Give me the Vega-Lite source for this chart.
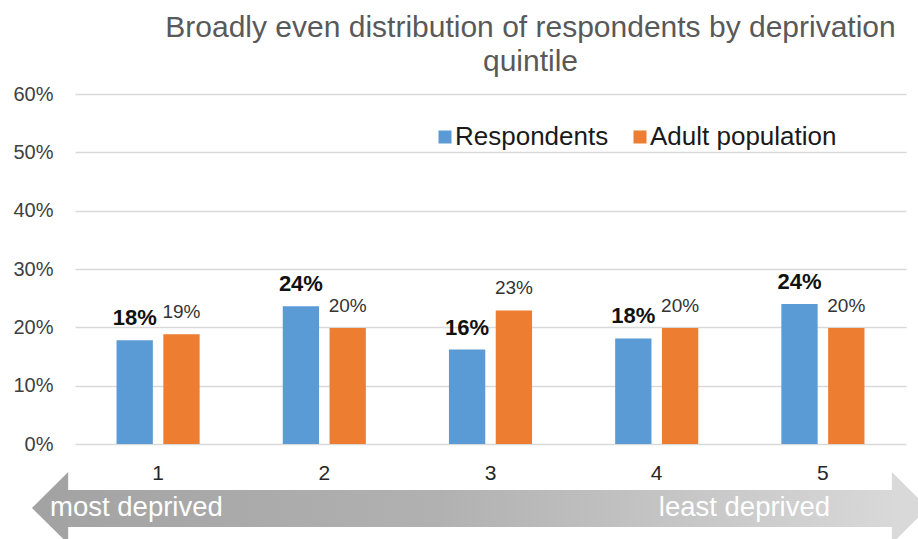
{
  "$schema": "https://vega.github.io/schema/vega-lite/v6.json",
  "width": 831,
  "height": 350,
  "autosize": {"type": "none"},
  "padding": {"left": 75, "top": 94, "right": 12, "bottom": 95},
  "background": "white",
  "config": {
    "view": {"stroke": null},
    "font": "Liberation Sans",
    "axisX": {"labelFontSize": 21, "labelColor": "#262626", "domain": false, "ticks": false, "labelPadding": 18, "labelAngle": 0, "grid": false, "title": null, "labelFont": "Liberation Sans"},
    "axisY": {"labelFontSize": 20, "labelColor": "#404040", "domain": false, "ticks": false, "labelPadding": 22, "grid": true, "gridColor": "#d9d9d9", "gridWidth": 1.3, "title": null, "labelFont": "Liberation Sans"}
  },
  "title": {
    "text": ["Broadly even distribution of respondents by deprivation", "quintile"],
    "fontSize": 30,
    "fontWeight": "normal",
    "color": "#595959",
    "anchor": "middle",
    "dx": 40,
    "offset": 7,
    "lineHeight": 34,
    "font": "Liberation Sans"
  },
  "datasets": {
    "bars": [
      {"quintile": "1", "series": "Respondents", "value": 0.178},
      {"quintile": "1", "series": "Adult population", "value": 0.188},
      {"quintile": "2", "series": "Respondents", "value": 0.236},
      {"quintile": "2", "series": "Adult population", "value": 0.199},
      {"quintile": "3", "series": "Respondents", "value": 0.162},
      {"quintile": "3", "series": "Adult population", "value": 0.229},
      {"quintile": "4", "series": "Respondents", "value": 0.181},
      {"quintile": "4", "series": "Adult population", "value": 0.199},
      {"quintile": "5", "series": "Respondents", "value": 0.240},
      {"quintile": "5", "series": "Adult population", "value": 0.199}
    ],
    "shaft": [
      {"start": 0.458, "end": 5.416, "top": -0.0789, "bottom": -0.1423}
    ],
    "heads": [
      {"piece": "left", "pos": 0.241, "top": -0.1097, "bottom": -0.1097},
      {"piece": "left", "pos": 0.459, "top": -0.048, "bottom": -0.171},
      {"piece": "right", "pos": 5.415, "top": -0.048, "bottom": -0.171},
      {"piece": "right", "pos": 5.632, "top": -0.1097, "bottom": -0.1097}
    ],
    "ends": [
      {"label": "most deprived", "end": "left", "pos": 0.35, "v": -0.1097},
      {"label": "least deprived", "end": "right", "pos": 5.043, "v": -0.1097}
    ]
  },
  "layer": [
    {
      "data": {"name": "bars"},
      "layer": [
        {
          "mark": {"type": "bar"},
          "encoding": {
            "x": {"field": "quintile", "type": "nominal", "scale": {"paddingInner": 0.5, "paddingOuter": 0.25}, "axis": {"title": null}},
            "xOffset": {"field": "series", "type": "nominal", "scale": {"domain": ["Respondents", "Adult population"], "paddingInner": 0.224, "paddingOuter": 0}},
            "y": {"field": "value", "type": "quantitative", "scale": {"domain": [0, 0.6], "nice": false}, "axis": {"values": [0, 0.1, 0.2, 0.3, 0.4, 0.5, 0.6], "format": ".0%", "title": null}},
            "color": {
              "field": "series", "type": "nominal",
              "scale": {"domain": ["Respondents", "Adult population"], "range": ["#5b9bd5", "#ed7d31"]},
              "legend": {"orient": "none", "legendX": 357, "legendY": 30, "direction": "horizontal", "title": null, "symbolType": "square", "symbolSize": 169, "symbolStrokeWidth": 0, "labelFontSize": 26, "labelColor": "#1a1a1a", "labelOffset": -3, "columnPadding": 18, "padding": 0, "labelFont": "Liberation Sans", "labelLimit": 400}
            }
          }
        },
        {
          "transform": [{"filter": "datum.series === 'Respondents'"}],
          "mark": {"type": "text", "fontWeight": "bold", "fontSize": 22, "dy": -22, "baseline": "middle", "color": "#111111"},
          "encoding": {
            "x": {"field": "quintile", "type": "nominal"},
            "xOffset": {"field": "series", "type": "nominal"},
            "y": {"field": "value", "type": "quantitative"},
            "text": {"field": "value", "type": "quantitative", "format": ".0%"}
          }
        },
        {
          "transform": [{"filter": "datum.series === 'Adult population'"}],
          "mark": {"type": "text", "fontSize": 19, "dy": -22, "baseline": "middle", "color": "#333333"},
          "encoding": {
            "x": {"field": "quintile", "type": "nominal"},
            "xOffset": {"field": "series", "type": "nominal"},
            "y": {"field": "value", "type": "quantitative"},
            "text": {"field": "value", "type": "quantitative", "format": ".0%"}
          }
        }
      ]
    },
    {
      "layer": [
        {
          "data": {"name": "shaft"},
          "mark": {
            "type": "rect",
            "opacity": 1,
            "color": {"gradient": "linear", "x1": 0, "x2": 1, "y1": 0, "y2": 0, "stops": [{"offset": 0, "color": "#a4a4a4"}, {"offset": 0.45, "color": "#b1b1b1"}, {"offset": 1, "color": "#d8d8d8"}]}
          },
          "encoding": {
            "x": {"field": "start", "type": "quantitative", "scale": {"domain": [0.5, 5.5], "nice": false, "zero": false}, "axis": null},
            "x2": {"field": "end"},
            "y": {"field": "top", "type": "quantitative", "scale": {"domain": [0, 0.6], "nice": false}, "axis": {"values": [0, 0.1, 0.2, 0.3, 0.4, 0.5, 0.6], "format": ".0%", "title": null}},
            "y2": {"field": "bottom"}
          }
        },
        {
          "data": {"name": "heads"},
          "transform": [{"filter": "datum.piece === 'left'"}],
          "mark": {"type": "area", "opacity": 1, "color": "#a3a3a3"},
          "encoding": {
            "x": {"field": "pos", "type": "quantitative"},
            "y": {"field": "top", "type": "quantitative"},
            "y2": {"field": "bottom"}
          }
        },
        {
          "data": {"name": "heads"},
          "transform": [{"filter": "datum.piece === 'right'"}],
          "mark": {"type": "area", "opacity": 1, "color": "#d9d9d9"},
          "encoding": {
            "x": {"field": "pos", "type": "quantitative"},
            "y": {"field": "top", "type": "quantitative"},
            "y2": {"field": "bottom"}
          }
        },
        {
          "data": {"name": "ends"},
          "transform": [{"filter": "datum.end === 'left'"}],
          "mark": {"type": "text", "align": "left", "baseline": "middle", "fontSize": 27.5, "color": "white"},
          "encoding": {
            "x": {"field": "pos", "type": "quantitative"},
            "y": {"field": "v", "type": "quantitative"},
            "text": {"field": "label"}
          }
        },
        {
          "data": {"name": "ends"},
          "transform": [{"filter": "datum.end === 'right'"}],
          "mark": {"type": "text", "align": "right", "baseline": "middle", "fontSize": 27.5, "color": "white"},
          "encoding": {
            "x": {"field": "pos", "type": "quantitative"},
            "y": {"field": "v", "type": "quantitative"},
            "text": {"field": "label"}
          }
        }
      ]
    }
  ],
  "resolve": {"scale": {"x": "independent"}, "axis": {"x": "independent"}}
}
